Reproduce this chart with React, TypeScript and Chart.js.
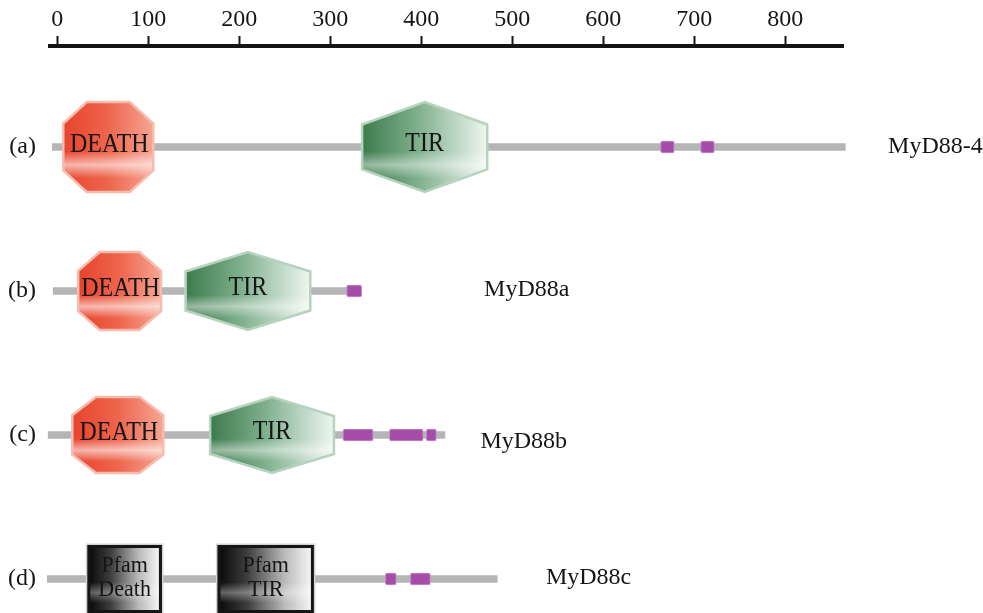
import React, { useEffect, useRef } from 'react';
import { Chart, registerables } from 'chart.js';
Chart.register(...registerables);

// ---- data ----
const rowLabels = ['(a)', '(b)', '(c)', '(d)'];
const proteinNames = ['MyD88-4', 'MyD88a', 'MyD88b', 'MyD88c'];
const proteinSpans: [number, number][] = [[-5.5, 866], [-4.5, 334], [-10, 426], [-11, 483.5]];
const deathSpans: [number, number][] = [[6.6, 105.5], [23, 114], [16.5, 116.5], [33, 115]];
const tirSpans: [number, number][] = [[335, 472.5], [141, 278], [168, 304], [176, 282]];
const motifSpans: [number, number][][] = [
  [[663, 678], [707, 722]],
  [[318, 334.5]],
  [[314, 347], [365, 402], [405.5, 416.5]],
  [[360.5, 372.5], [388, 410]],
];
const domainKinds = ['smart', 'smart', 'smart', 'pfam'];
const nameAnchors = [913, 469, 465, 537];
const axisTicks = [0, 100, 200, 300, 400, 500, 600, 700, 800];
const axisMin = -8;
const axisMax = 864;

// ---- style ----
const SERIF = '"Liberation Serif", "Times New Roman", serif';
const INK = '#151515';
const domainHeights = [90, 78, 76, 68];
const nameDy = [0, -1, 7, -1];

function stretchedText(ctx: CanvasRenderingContext2D, txt: string, cx: number, cy: number, size: number, sy = 1.1) {
  ctx.save();
  ctx.translate(cx, cy);
  ctx.scale(1, sy);
  ctx.font = `${size}px ${SERIF}`;
  ctx.fillStyle = INK;
  ctx.textAlign = 'center';
  ctx.textBaseline = 'middle';
  ctx.fillText(txt, 0, 0);
  ctx.restore();
}

function highlight(ctx: CanvasRenderingContext2D, y0: number, y1: number, a: number) {
  const g = ctx.createLinearGradient(0, y0, 0, y1);
  g.addColorStop(0, 'rgba(255,255,255,0)');
  g.addColorStop(0.55, 'rgba(255,255,255,0)');
  g.addColorStop(0.7, `rgba(255,255,255,${a})`);
  g.addColorStop(0.85, 'rgba(255,255,255,0)');
  g.addColorStop(1, 'rgba(255,255,255,0)');
  return g;
}

function drawOctagon(ctx: CanvasRenderingContext2D, x0: number, x1: number, cy: number, h: number) {
  const w = x1 - x0;
  const y0 = cy - h / 2, y1 = cy + h / 2;
  const cx = w * 0.26, cyc = h * 0.24;
  ctx.beginPath();
  ctx.moveTo(x0 + cx, y0);
  ctx.lineTo(x1 - cx, y0);
  ctx.lineTo(x1, y0 + cyc);
  ctx.lineTo(x1, y1 - cyc);
  ctx.lineTo(x1 - cx, y1);
  ctx.lineTo(x0 + cx, y1);
  ctx.lineTo(x0, y1 - cyc);
  ctx.lineTo(x0, y0 + cyc);
  ctx.closePath();
  const g = ctx.createLinearGradient(x0, 0, x1, 0);
  g.addColorStop(0, '#e8432c');
  g.addColorStop(0.5, '#ee654d');
  g.addColorStop(1, '#f6a593');
  ctx.fillStyle = g;
  ctx.fill();
  ctx.fillStyle = highlight(ctx, y0, y1, 0.6);
  ctx.fill();
  ctx.lineWidth = 2.5;
  ctx.strokeStyle = '#f6bcae';
  ctx.stroke();
  stretchedText(ctx, 'DEATH', (x0 + x1) / 2 + 1, cy - 2, 24, 1.15);
}

function drawHexagon(ctx: CanvasRenderingContext2D, x0: number, x1: number, cy: number, h: number) {
  const y0 = cy - h / 2, y1 = cy + h / 2;
  const mx = (x0 + x1) / 2;
  const s = h * 0.25;
  ctx.beginPath();
  ctx.moveTo(x0, cy - s);
  ctx.lineTo(mx, y0);
  ctx.lineTo(x1, cy - s);
  ctx.lineTo(x1, cy + s);
  ctx.lineTo(mx, y1);
  ctx.lineTo(x0, cy + s);
  ctx.closePath();
  const g = ctx.createLinearGradient(x0, 0, x1, 0);
  g.addColorStop(0, '#3d7b4b');
  g.addColorStop(0.45, '#80b08e');
  g.addColorStop(1, '#eef6f0');
  ctx.fillStyle = g;
  ctx.fill();
  ctx.fillStyle = highlight(ctx, y0, y1, 0.45);
  ctx.fill();
  ctx.lineWidth = 2.5;
  ctx.strokeStyle = '#b6d3be';
  ctx.stroke();
  stretchedText(ctx, 'TIR', mx, cy - 3, 24, 1.15);
}

function drawPfam(ctx: CanvasRenderingContext2D, x0: number, x1: number, cy: number, h: number, lines: string[]) {
  const y0 = cy - h / 2, y1 = cy + h / 2;
  ctx.fillStyle = '#d2d2d2';
  ctx.fillRect(x0 - 1.5, y0 - 1.5, x1 - x0 + 3, y1 - y0 + 3);
  ctx.fillStyle = '#151515';
  ctx.fillRect(x0, y0, x1 - x0, y1 - y0);
  const g = ctx.createLinearGradient(x0 + 3, 0, x1 - 3, 0);
  g.addColorStop(0, '#0c0c0c');
  g.addColorStop(0.3, '#3e3e3e');
  g.addColorStop(0.7, '#b8b8b8');
  g.addColorStop(1, '#f4f4f4');
  ctx.fillStyle = g;
  ctx.fillRect(x0 + 3, y0 + 3, x1 - x0 - 6, y1 - y0 - 6);
  ctx.fillStyle = highlight(ctx, y0, y1, 0.35);
  ctx.fillRect(x0 + 3, y0 + 3, x1 - x0 - 6, y1 - y0 - 6);
  stretchedText(ctx, lines[0], (x0 + x1) / 2, cy - 13, 22, 1.08);
  stretchedText(ctx, lines[1], (x0 + x1) / 2, cy + 11, 22, 1.08);
}

const domainPlugin = {
  id: 'domains',
  afterDatasetsDraw(chart: any) {
    const { ctx, scales } = chart;
    const x = scales.x, y = scales.y;
    ctx.save();
    rowLabels.forEach((_, i) => {
      const cy = y.getPixelForValue(i);
      const h = domainHeights[i];
      const d = deathSpans[i], t = tirSpans[i];
      if (domainKinds[i] === 'smart') {
        drawOctagon(ctx, x.getPixelForValue(d[0]), x.getPixelForValue(d[1]), cy, h);
        drawHexagon(ctx, x.getPixelForValue(t[0]), x.getPixelForValue(t[1]), cy, h);
      } else {
        drawPfam(ctx, x.getPixelForValue(d[0]), x.getPixelForValue(d[1]), cy, h, ['Pfam', 'Death']);
        drawPfam(ctx, x.getPixelForValue(t[0]), x.getPixelForValue(t[1]), cy, h, ['Pfam', 'TIR']);
      }
      ctx.font = `24px ${SERIF}`;
      ctx.fillStyle = INK;
      ctx.textAlign = 'left';
      ctx.textBaseline = 'middle';
      ctx.fillText(proteinNames[i], x.getPixelForValue(nameAnchors[i]), cy + nameDy[i]);
    });
    ctx.restore();
  },
};

export default function App() {
  const ref = useRef<HTMLCanvasElement | null>(null);
  useEffect(() => {
    if (!ref.current) return;
    const chart = new Chart(ref.current, {
      type: 'bar',
      data: {
        datasets: [
          {
            label: 'motifs',
            data: motifSpans.flatMap((arr, i) => arr.map((s) => ({ x: s, y: i }))) as any,
            backgroundColor: '#a64dab',
            borderColor: '#c58ac9',
            borderWidth: 1,
            borderSkipped: false,
            borderRadius: 2,
            barThickness: 12,
            grouped: false,
            clip: false as any,
            order: 1,
          },
          {
            label: 'backbone',
            data: proteinSpans.map((s, i) => ({ x: s, y: i })) as any,
            backgroundColor: '#b5b5b5',
            borderWidth: 0,
            barThickness: 7,
            grouped: false,
            clip: false as any,
            order: 2,
          },
        ],
      },
      options: {
        indexAxis: 'y',
        responsive: false,
        animation: false,
        layout: { padding: { left: 0, right: 139.5, top: 0, bottom: 0 } },
        plugins: { legend: { display: false }, tooltip: { enabled: false } },
        scales: {
          x: {
            type: 'linear',
            position: 'top',
            min: axisMin,
            max: axisMax,
            offset: false,
            afterBuildTicks: (s: any) => {
              s.ticks = axisTicks.map((v) => ({ value: v }));
            },
            afterFit: (s: any) => {
              s.height = 46;
              s.paddingLeft = 0;
              s.paddingRight = 0;
            },
            ticks: {
              font: { family: SERIF, size: 24 },
              color: INK,
              padding: 2,
              maxRotation: 0,
              autoSkip: false,
            },
            grid: {
              offset: false,
              drawOnChartArea: false,
              drawTicks: true,
              tickLength: 10,
              tickWidth: 2,
              tickColor: INK,
            },
            border: { display: true, width: 4, color: INK },
          },
          y: {
            type: 'linear',
            reverse: true,
            offset: false,
            min: -0.701,
            max: 3.236,
            afterBuildTicks: (s: any) => {
              s.ticks = rowLabels.map((_, i) => ({ value: i }));
            },
            afterFit: (s: any) => {
              s.width = 50;
              s.paddingTop = 0;
              s.paddingBottom = 0;
            },
            ticks: {
              callback: (v: any) => rowLabels[v] ?? '',
              font: { family: SERIF, size: 24 },
              color: INK,
              padding: 14,
              autoSkip: false,
            },
            grid: { display: false, drawTicks: false, offset: false },
            border: { display: false },
          },
        },
      },
      plugins: [domainPlugin],
    } as any);
    return () => chart.destroy();
  }, []);
  return (
    <div style={{ position: 'absolute', left: 0, top: 0, width: 983, height: 613, background: '#fff' }}>
      <canvas ref={ref} width={983} height={613} style={{ display: 'block' }} />
    </div>
  );
}
